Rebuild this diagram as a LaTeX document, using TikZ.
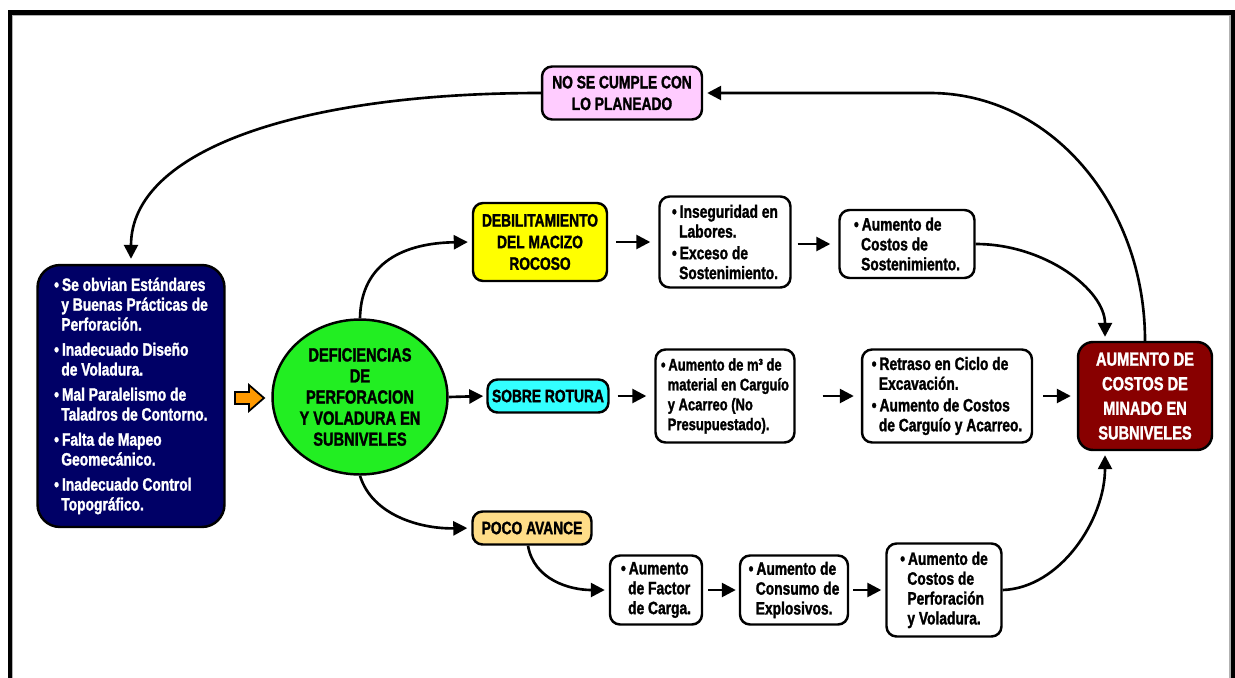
\documentclass[tikz,border=0pt]{standalone}
\usepackage{fontspec}
\setmainfont{Liberation Sans}[FakeStretch=0.77, BoldFeatures={FakeBold=1.5}]
\usetikzlibrary{shapes.geometric,arrows.meta}

\definecolor{cnavy}{HTML}{000066}
\definecolor{cgreen}{HTML}{22EE22}
\definecolor{cyellow}{HTML}{FFFF00}
\definecolor{ccyan}{HTML}{33FFFF}
\definecolor{cpeach}{HTML}{FFDD88}
\definecolor{cpink}{HTML}{FFCCFF}
\definecolor{cmaroon}{HTML}{880000}
\definecolor{corange}{HTML}{FF9900}

\newcommand\bp{\textbullet\,}
\newcommand\cn{\hspace*{0.4em}}

\tikzset{
  box/.style={draw=black, line width=1.4pt, rounded corners=0.2cm, fill=white,
    align=left, inner sep=0pt, font=\bfseries\fontsize{10.2}{11.3}\selectfont},
  titlebox/.style={box, align=center, font=\bfseries\fontsize{10.2}{12.3}\selectfont},
  arr/.style={line width=1.5pt, -{Triangle[length=0.28cm,width=0.28cm]},
    shorten <=0.16cm, shorten >=0.16cm},
  curvearr/.style={line width=1.5pt, -{Triangle[length=0.28cm,width=0.28cm]},
    shorten >=0.08cm},
}

\begin{document}
\begin{tikzpicture}[x=0.02cm,y=-0.02cm]
\useasboundingbox (0,0) rectangle (1235,677);

% page frame, open at the bottom
\draw[gray!60, line width=0.6pt] (12.5,680) -- (12.5,15.5) -- (1230,15.5) -- (1230,680);
\draw[line width=2.8pt] (10,680) -- (10,12.5) -- (1233,12.5) -- (1233,680);

% causes
\node[box, fill=cnavy, text=white, rounded corners=0.45cm,
      minimum width=3.74cm, minimum height=5.24cm] (causes) at (131,396)
  {\bp Se obvian Estándares\\\cn y Buenas Prácticas de\\\cn Perforación.\\[3pt]
   \bp Inadecuado Diseño\\\cn de Voladura.\\[3pt]
   \bp Mal Paralelismo de\\\cn Taladros de Contorno.\\[3pt]
   \bp Falta de Mapeo\\\cn Geomecánico.\\[3pt]
   \bp Inadecuado Control\\\cn Topográfico.};

% block arrow towards the central problem
\fill[corange, draw=black, line width=1pt, line join=miter]
  (235,392) -- (249,392) -- (249,385) -- (264,398) -- (249,411) -- (249,404) -- (235,404) -- cycle;

% central problem
\node[ellipse, draw=black, line width=1.4pt, fill=cgreen, inner sep=0pt,
      minimum width=3.5cm, minimum height=3.1cm, align=center,
      font=\bfseries\fontsize{10.8}{12}\selectfont] (def) at (360,397)
  {DEFICIENCIAS\\DE\\PERFORACION\\Y VOLADURA EN\\SUBNIVELES};

% direct effects
\node[titlebox, fill=cyellow, minimum width=2.68cm, minimum height=1.56cm] (debil) at (540,242)
  {DEBILITAMIENTO\\DEL MACIZO\\ROCOSO};
\node[titlebox, fill=ccyan, minimum width=2.42cm, minimum height=0.66cm] (rotura) at (548,396)
  {SOBRE ROTURA};
\node[titlebox, fill=cpeach, minimum width=2.38cm, minimum height=0.66cm] (avance) at (532,528)
  {POCO AVANCE};

% upper branch
\node[box, minimum width=2.62cm, minimum height=1.82cm] (inseg) at (725,242)
  {\bp Inseguridad en\\\cn Labores.\\[1pt]\bp Exceso de\\\cn Sostenimiento.};
\node[box, minimum width=2.7cm, minimum height=1.36cm] (csost) at (907,244)
  {\bp Aumento de\\\cn Costos de\\\cn Sostenimiento.};

% middle branch
\node[box, minimum width=2.78cm, minimum height=1.86cm,
      font=\bfseries\fontsize{9.6}{11.3}\selectfont] (mat) at (725,396)
  {\bp Aumento de m³ de\\\cn material en Carguío\\\cn y Acarreo (No\\\cn Presupuestado).};
\node[box, minimum width=3.4cm, minimum height=1.86cm] (retraso) at (947,396)
  {\bp Retraso en Ciclo de\\\cn Excavación.\\[1pt]\bp Aumento de Costos\\\cn de Carguío y Acarreo.};

% lower branch
\node[box, minimum width=1.84cm, minimum height=1.38cm] (factor) at (656,590)
  {\bp Aumento\\\cn de Factor\\\cn de Carga.};
\node[box, minimum width=2.16cm, minimum height=1.38cm] (consumo) at (794,590)
  {\bp Aumento de\\\cn Consumo de\\\cn Explosivos.};
\node[box, minimum width=2.3cm, minimum height=1.86cm] (cperf) at (944,590)
  {\bp Aumento de\\\cn Costos de\\\cn Perforación\\\cn y Voladura.};

% final effect
\node[titlebox, fill=cmaroon, text=white, rounded corners=0.3cm,
      minimum width=2.68cm, minimum height=2.16cm,
      font=\bfseries\fontsize{10.8}{14}\selectfont] (aum) at (1145,396)
  {AUMENTO DE\\COSTOS DE\\MINADO EN\\SUBNIVELES};

% feedback
\node[titlebox, fill=cpink, minimum width=3.2cm, minimum height=1.06cm] (nose) at (622,93)
  {NO SE CUMPLE CON\\LO PLANEADO};
\coordinate (bend) at (930,93);

% connectors
\draw[curvearr] (def.north) .. controls (361,262) and (405,243) .. (debil.west);
\draw[arr, shorten <=0pt, shorten >=0.06cm] (def.east) -- (rotura.west);
\draw[curvearr] (def.south) .. controls (372,515) and (420,529) .. (avance.west);

\draw[arr] (debil) -- (inseg);
\draw[arr, shorten <=0.12cm] (inseg.east |- csost) -- (csost.west);
\draw[arr] (rotura) -- (mat);
\draw[arr, shorten <=0.54cm, shorten >=0.14cm] (mat) -- (retraso);
\draw[arr, shorten <=0.2cm, shorten >=0.12cm] (retraso) -- (aum);
\draw[arr, shorten <=0.1cm, shorten >=0.06cm] (factor) -- (consumo);
\draw[arr, shorten <=0.08cm, shorten >=0.08cm] (consumo) -- (cperf);

\draw[curvearr] ([xshift=-0.08cm]avance.south) .. controls (534,580) and (570,590) .. (factor.west);
\draw[curvearr] (csost.east) .. controls (1045,244) and (1105,290) .. ([xshift=-0.8cm]aum.north);
\draw[curvearr] (cperf.east) .. controls (1060,588) and (1105,520) .. ([xshift=-0.8cm]aum.south);

\draw[curvearr] (aum.north) .. controls (1145,204) and (1050,93) .. (bend) -- (nose.east);
\draw[curvearr, shorten >=0.1cm] (nose.west) .. controls (300,93) and (131,150) .. (causes.north);
\end{tikzpicture}
\end{document}
